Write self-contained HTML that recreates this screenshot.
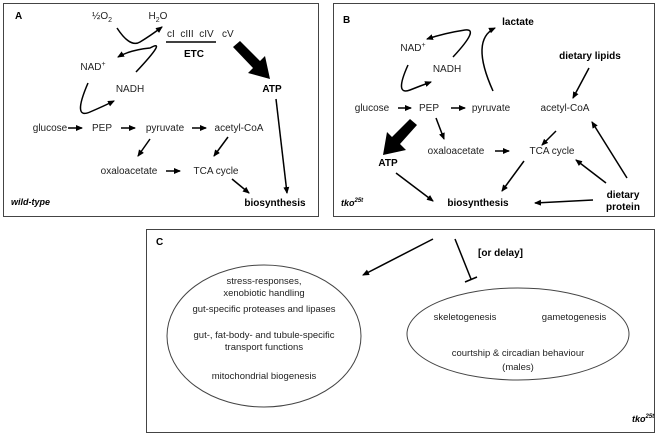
<!DOCTYPE html>
<html><head><meta charset="utf-8"><style>
html,body{margin:0;padding:0;background:#fff;width:661px;height:436px;overflow:hidden}
svg{display:block;font-family:"Liberation Sans",sans-serif;font-size:10px;fill:#222}
.b{font-weight:bold;fill:#000}
.c{font-size:9.5px}
</style></head><body>
<svg width="661" height="436" viewBox="0 0 661 436">
<defs>
<marker id="a" markerWidth="8" markerHeight="8" refX="6" refY="3" orient="auto" markerUnits="userSpaceOnUse"><path d="M0,0 L7,3 L0,6 z" fill="#000"/></marker>
</defs>
<g fill="none" stroke="#444" stroke-width="1">
<rect x="3.5" y="3.5" width="315" height="213"/>
<rect x="333.5" y="3.5" width="321" height="213"/>
<rect x="146.5" y="229.5" width="508" height="203"/>
<ellipse cx="264" cy="336" rx="97" ry="71"/>
<ellipse cx="518" cy="334" rx="111" ry="46"/>
</g>
<g fill="none" stroke="#000" stroke-width="1.5" marker-end="url(#a)">
<path d="M117,28 Q130,48 140,42 Q150,36 162,27"/>
<path d="M136,72 Q168,38 150,48 Q130,50 118,57"/>
<path d="M88,83 Q72,120 90,112 Q104,106 114,101"/>
<line x1="276" y1="99" x2="287" y2="193"/>
<line x1="68" y1="128" x2="82" y2="128"/>
<line x1="121" y1="128" x2="135" y2="128"/>
<line x1="192" y1="128" x2="206" y2="128"/>
<line x1="150" y1="139" x2="138" y2="156"/>
<line x1="228" y1="137" x2="214" y2="156"/>
<line x1="166" y1="171" x2="180" y2="171"/>
<line x1="232" y1="179" x2="249" y2="193"/>
<path d="M453,57 Q480,28 465,30 Q445,33 427,39"/>
<path d="M408,65 Q394,96 410,90 Q420,86 431,82"/>
<path d="M493,91 Q470,40 495,28"/>
<line x1="398" y1="108" x2="411" y2="108"/>
<line x1="451" y1="108" x2="465" y2="108"/>
<line x1="589" y1="68" x2="573" y2="98"/>
<line x1="436" y1="118" x2="444" y2="139"/>
<line x1="556" y1="131" x2="542" y2="145"/>
<line x1="495" y1="151" x2="509" y2="151"/>
<line x1="524" y1="161" x2="502" y2="191"/>
<line x1="396" y1="173" x2="433" y2="201"/>
<line x1="593" y1="200" x2="535" y2="203"/>
<line x1="606" y1="183" x2="576" y2="160"/>
<line x1="627" y1="178" x2="592" y2="122"/>
<line x1="433" y1="239" x2="363" y2="275"/>
</g>
<g stroke="#000" stroke-width="1.5">
<line x1="166" y1="42" x2="216" y2="42"/>
<line x1="455" y1="239" x2="471" y2="279"/>
<line x1="465" y1="282" x2="477" y2="277"/>
</g>
<path d="M233,47 L240,41 L260,61 L265,56 L270,79 L248,73 L253,68 Z" fill="#000"/>
<path d="M417,125 L410,119 L392,137 L387,132 L383,155 L406,150 L400,144 Z" fill="#000"/>
<text x="15" y="19" class="b">A</text>
<text x="102" y="19" text-anchor="middle">½O<tspan font-size="7" dy="3">2</tspan></text>
<text x="158" y="19" text-anchor="middle">H<tspan font-size="7" dy="3">2</tspan><tspan dy="-3">O</tspan></text>
<text x="167" y="37">cI&#160; cIII&#160; cIV&#160;&#160; cV</text>
<text x="194" y="57" class="b" text-anchor="middle">ETC</text>
<text x="93" y="70" text-anchor="middle">NAD<tspan font-size="7" dy="-4">+</tspan></text>
<text x="130" y="92" text-anchor="middle">NADH</text>
<text x="272" y="92" class="b" text-anchor="middle">ATP</text>
<text x="50" y="131" text-anchor="middle">glucose</text>
<text x="102" y="131" text-anchor="middle">PEP</text>
<text x="165" y="131" text-anchor="middle">pyruvate</text>
<text x="239" y="131" text-anchor="middle">acetyl-CoA</text>
<text x="129" y="174" text-anchor="middle">oxaloacetate</text>
<text x="216" y="174" text-anchor="middle">TCA cycle</text>
<text x="275" y="206" class="b" text-anchor="middle">biosynthesis</text>
<text x="11" y="205" class="b" font-style="italic" font-size="9">wild-type</text>
<text x="343" y="23" class="b">B</text>
<text x="518" y="25" class="b" text-anchor="middle">lactate</text>
<text x="413" y="51" text-anchor="middle">NAD<tspan font-size="7" dy="-4">+</tspan></text>
<text x="447" y="72" text-anchor="middle">NADH</text>
<text x="590" y="59" class="b" text-anchor="middle">dietary lipids</text>
<text x="372" y="111" text-anchor="middle">glucose</text>
<text x="429" y="111" text-anchor="middle">PEP</text>
<text x="491" y="111" text-anchor="middle">pyruvate</text>
<text x="565" y="111" text-anchor="middle">acetyl-CoA</text>
<text x="388" y="166" class="b" text-anchor="middle">ATP</text>
<text x="456" y="154" text-anchor="middle">oxaloacetate</text>
<text x="552" y="154" text-anchor="middle">TCA cycle</text>
<text x="478" y="206" class="b" text-anchor="middle">biosynthesis</text>
<text x="623" y="198" class="b" text-anchor="middle">dietary</text>
<text x="623" y="210" class="b" text-anchor="middle">protein</text>
<text x="341" y="206" class="b" font-style="italic" font-size="9">tko<tspan font-size="6" dy="-4">25t</tspan></text>
<text x="156" y="245" class="b">C</text>
<text x="478" y="256" class="b">[or delay]</text>
<text x="264" y="284" text-anchor="middle" class="c">stress-responses,</text>
<text x="264" y="296" text-anchor="middle" class="c">xenobiotic handling</text>
<text x="264" y="312" text-anchor="middle" class="c">gut-specific proteases and lipases</text>
<text x="264" y="338" text-anchor="middle" class="c">gut-, fat-body- and tubule-specific</text>
<text x="264" y="350" text-anchor="middle" class="c">transport functions</text>
<text x="264" y="379" text-anchor="middle" class="c">mitochondrial biogenesis</text>
<text x="465" y="320" text-anchor="middle" class="c">skeletogenesis</text>
<text x="574" y="320" text-anchor="middle" class="c">gametogenesis</text>
<text x="518" y="356" text-anchor="middle" class="c">courtship &amp; circadian behaviour</text>
<text x="518" y="370" text-anchor="middle" class="c">(males)</text>
<text x="632" y="422" class="b" font-style="italic" font-size="9">tko<tspan font-size="6" dy="-4">25t</tspan></text>
</svg>
</body></html>
